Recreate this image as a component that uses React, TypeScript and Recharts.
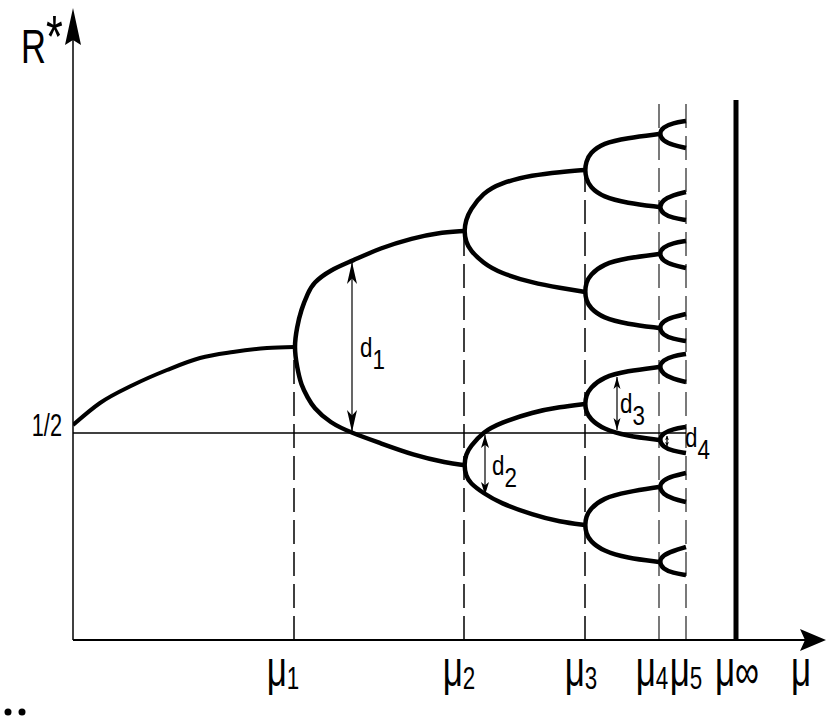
import React from "react";
import { ComposedChart, Line, XAxis, YAxis, ReferenceLine, ReferenceDot } from "recharts";

// bifurcation points on the mu axis (mu1..mu5, mu-infinity)
const MU_TICKS = [221, 391, 512, 586, 613, 663];
const MU_SUBS = ["1", "2", "3", "4", "5", "∞"];

// the R* = 1/2 level
const HALF_TICKS = [207];
const HALF_LABEL = "1/2";

// single stable branch before mu1
const LEAD = [[0, 215], [27, 237], [60, 255], [94, 270], [127, 282], [160, 288], [194, 292], [221, 293]];

// each fork is listed bottom end -> branch point -> top end
const FORK_1 = [
  [391, 175], [374, 177], [340, 185], [307, 197], [279, 207], [257, 217], [240, 233], [235, 242],
  [228, 255], [224, 273], [221, 293], [224, 313], [228, 330], [235, 347], [240, 357], [257, 370],
  [279, 379], [307, 392], [340, 402], [364, 407], [391, 409],
];

const FORK_2A = [
  [512, 348], [487, 352], [460, 357], [427, 367], [410, 377], [397, 390], [393, 398], [391, 409],
  [393, 420], [397, 430], [410, 447], [427, 457], [460, 465], [487, 468], [512, 470],
];
const FORK_2B = [
  [512, 115], [487, 118], [460, 125], [427, 137], [410, 147], [397, 157], [393, 164], [391, 175],
  [393, 186], [397, 193], [410, 208], [427, 217], [460, 228], [487, 233], [512, 236],
];

const FORK_3A = [[586, 433], [554, 437], [530, 443], [517, 453], [513, 462], [512, 470], [513, 478], [517, 487], [530, 497], [554, 502], [586, 506]];
const FORK_3B = [[586, 312], [554, 316], [530, 322], [517, 332], [513, 340], [512, 348], [513, 357], [517, 365], [530, 376], [554, 382], [586, 386]];
const FORK_3C = [[586, 200], [554, 204], [530, 211], [517, 221], [513, 229], [512, 236], [513, 244], [517, 252], [530, 263], [554, 269], [586, 273]];
const FORK_3D = [[586, 78], [554, 82], [530, 89], [517, 99], [513, 107], [512, 115], [513, 123], [517, 131], [530, 142], [554, 148], [586, 153]];

const FORK_4A = [[613, 492], [600, 495], [590, 499], [586, 506], [590, 513], [600, 517], [613, 519]];
const FORK_4B = [[613, 420], [600, 422], [590, 426], [586, 433], [590, 440], [600, 445], [613, 448]];
const FORK_4C = [[613, 372], [600, 375], [590, 379], [586, 386], [590, 393], [600, 397], [613, 399]];
const FORK_4D = [[613, 299], [600, 301], [590, 305], [586, 312], [590, 319], [600, 323], [613, 326]];
const FORK_4E = [[613, 258], [600, 261], [590, 266], [586, 273], [590, 280], [600, 284], [613, 286]];
const FORK_4F = [[613, 187], [600, 189], [590, 193], [586, 200], [590, 207], [600, 211], [613, 213]];
const FORK_4G = [[613, 138], [600, 141], [590, 146], [586, 153], [590, 160], [600, 164], [613, 167]];
const FORK_4H = [[613, 65], [600, 67], [590, 71], [586, 78], [590, 85], [600, 89], [613, 93]];

const FORKS = [
  FORK_1, FORK_2A, FORK_2B, FORK_3A, FORK_3B, FORK_3C, FORK_3D,
  FORK_4A, FORK_4B, FORK_4C, FORK_4D, FORK_4E, FORK_4F, FORK_4G, FORK_4H,
];

// how high the dashed guides at mu1..mu5 reach, and the mu-infinity bar
const GUIDE_TOPS = [293, 409, 470, 540, 540];
const MU_INF_TOP = 540;

// distances d1..d4 (vertical double arrows)
const D_X = [279, 412, 544, 594];
const D_LOW = [208, 145, 210, 194];
const D_HIGH = [378, 205, 263, 204];
const D_SUBS = ["1", "2", "3", "4"];

const X_MAX = 755;
const Y_MAX = 640;
const FONT = "'Liberation Sans', Arial, sans-serif";

const toPts = (arr: number[][]) => arr.map(([x, y]) => ({ x, y }));

// tick label nudges (px) and arrow head sizes [length, half width]
const MU_DX = [-11, -5, -4, -7, 0, 1];
const HEADS = [[22, 5], [13, 4], [12, 3.5], [4, 2]];
const D_LABEL_OFF = [[8, 10], [7, 10], [3, 9], [18, 6]];

const MuTick = (props: any) => {
  const { x, y, payload } = props;
  const i = MU_TICKS.indexOf(payload.value);
  const inf = MU_SUBS[i] === "∞";
  return (
    <text
      transform={`translate(${x + MU_DX[i]},${y + 46}) scale(0.7,1)`}
      textAnchor="middle"
      fontFamily={FONT}
      fontSize={50}
      fill="#000"
    >
      μ
      <tspan fontSize={inf ? 48 : 32} dy={inf ? 2 : 3}>
        {MU_SUBS[i]}
      </tspan>
    </text>
  );
};

const HalfTick = (props: any) => {
  const { x, y } = props;
  return (
    <text
      transform={`translate(${x - 11},${y + 3}) scale(0.68,1)`}
      textAnchor="end"
      fontFamily={FONT}
      fontSize={32}
      fill="#000"
    >
      {HALF_LABEL}
    </text>
  );
};

export default function App() {
  return (
    <div style={{ position: "absolute", left: 0, top: 0, background: "#fff" }}>
      <ComposedChart width={828} height={723} margin={{ top: 0, right: 0, bottom: 0, left: 0 }}>
        <XAxis
          type="number"
          dataKey="x"
          domain={[0, X_MAX]}
          allowDataOverflow
          ticks={MU_TICKS}
          tick={<MuTick />}
          tickLine={false}
          axisLine={false}
          tickSize={0}
          tickMargin={0}
          height={83}
          interval={0}
        />
        <YAxis
          type="number"
          dataKey="y"
          domain={[0, Y_MAX]}
          allowDataOverflow
          ticks={HALF_TICKS}
          tick={<HalfTick />}
          tickLine={false}
          axisLine={false}
          tickSize={0}
          tickMargin={0}
          width={73}
        />

        {/* dashed guides at each bifurcation */}
        {GUIDE_TOPS.map((top, i) => (
          <ReferenceLine
            key={`g${i}`}
            segment={[{ x: MU_TICKS[i], y: 0 }, { x: MU_TICKS[i], y: top }]}
            stroke={i < 3 ? "#000" : "#333"}
            strokeWidth={i < 3 ? 1.5 : 1.3}
            strokeDasharray="24 8"
            ifOverflow="visible"
          />
        ))}
        <ReferenceLine
          segment={[{ x: MU_TICKS[5], y: 0 }, { x: MU_TICKS[5], y: MU_INF_TOP }]}
          stroke="#000"
          strokeWidth={5}
          ifOverflow="visible"
        />

        {/* R* = 1/2 line */}
        <ReferenceLine
          segment={[{ x: 0, y: HALF_TICKS[0] }, { x: MU_TICKS[4], y: HALF_TICKS[0] }]}
          stroke="#000"
          strokeWidth={1.5}
          ifOverflow="visible"
        />

        {/* axes */}
        <ReferenceLine segment={[{ x: 0, y: 0 }, { x: 740, y: 0 }]} stroke="#000" strokeWidth={1.8} ifOverflow="visible" />
        <ReferenceLine segment={[{ x: 0, y: 0 }, { x: 0, y: 610 }]} stroke="#000" strokeWidth={1.5} ifOverflow="visible" />
        <ReferenceDot
          x={753}
          y={0}
          r={0}
          ifOverflow="visible"
          shape={(p: any) => (
            <polygon points={`${p.cx},${p.cy} ${p.cx - 26},${p.cy - 11} ${p.cx - 21},${p.cy} ${p.cx - 26},${p.cy + 11}`} fill="#000" />
          )}
        />
        <ReferenceDot
          x={0}
          y={632}
          r={0}
          ifOverflow="visible"
          shape={(p: any) => (
            <polygon points={`${p.cx},${p.cy} ${p.cx + 8},${p.cy + 37} ${p.cx},${p.cy + 32} ${p.cx - 8},${p.cy + 37}`} fill="#000" />
          )}
        />

        {/* the branches */}
        <Line data={toPts(LEAD)} dataKey="y" type="monotone" stroke="#000" strokeWidth={4} dot={false} isAnimationActive={false} />
        {FORKS.map((f, i) => (
          <Line
            key={`f${i}`}
            data={toPts(f)}
            dataKey="y"
            type="basis"
            stroke="#000"
            strokeWidth={4.5}
            dot={false}
            isAnimationActive={false}
          />
        ))}

        {/* d1..d4 double arrows */}
        {D_X.map((dx, i) => (
          <ReferenceLine
            key={`d${i}`}
            segment={[{ x: dx, y: D_LOW[i] }, { x: dx, y: D_HIGH[i] }]}
            stroke="#000"
            strokeWidth={1.2}
            ifOverflow="visible"
          />
        ))}
        {D_X.map((dx, i) => (
          <ReferenceDot
            key={`du${i}`}
            x={dx}
            y={D_HIGH[i]}
            r={0}
            ifOverflow="visible"
            shape={(p: any) => {
              const [l, w] = HEADS[i];
              return <polygon points={`${p.cx},${p.cy} ${p.cx + w},${p.cy + l} ${p.cx},${p.cy + l * 0.75} ${p.cx - w},${p.cy + l}`} fill="#000" />;
            }}
          />
        ))}
        {D_X.map((dx, i) => (
          <ReferenceDot
            key={`dd${i}`}
            x={dx}
            y={D_LOW[i]}
            r={0}
            ifOverflow="visible"
            shape={(p: any) => {
              const [l, w] = HEADS[i];
              return <polygon points={`${p.cx},${p.cy} ${p.cx + w},${p.cy - l} ${p.cx},${p.cy - l * 0.75} ${p.cx - w},${p.cy - l}`} fill="#000" />;
            }}
          />
        ))}
        {D_X.map((dx, i) => (
          <ReferenceDot
            key={`dl${i}`}
            x={dx}
            y={(D_LOW[i] + D_HIGH[i]) / 2}
            r={0}
            ifOverflow="visible"
            shape={(p: any) => (
              <text
                transform={`translate(${p.cx + D_LABEL_OFF[i][0]},${p.cy + D_LABEL_OFF[i][1]}) scale(0.8,1)`}
                fontFamily={FONT}
                fontSize={28}
                fill="#000"
              >
                d
                <tspan dy={12}>{D_SUBS[i]}</tspan>
              </text>
            )}
          />
        ))}

        {/* axis names */}
        <ReferenceDot
          x={-52}
          y={577}
          r={0}
          ifOverflow="visible"
          shape={(p: any) => (
            <text transform={`translate(${p.cx},${p.cy}) scale(0.72,1)`} fontFamily={FONT} fontSize={48} fill="#000">
              R
              <tspan fontSize={60} dy={-6}>*</tspan>
            </text>
          )}
        />
        <ReferenceDot
          x={728}
          y={-46}
          r={0}
          ifOverflow="visible"
          shape={(p: any) => (
            <text transform={`translate(${p.cx},${p.cy}) scale(0.7,1)`} textAnchor="middle" fontFamily={FONT} fontSize={50} fill="#000">
              μ
            </text>
          )}
        />
        <ReferenceDot x={-65} y={-72} r={3.5} fill="#000" stroke="none" ifOverflow="visible" />
        <ReferenceDot x={-51} y={-72} r={3.5} fill="#000" stroke="none" ifOverflow="visible" />
      </ComposedChart>
    </div>
  );
}
